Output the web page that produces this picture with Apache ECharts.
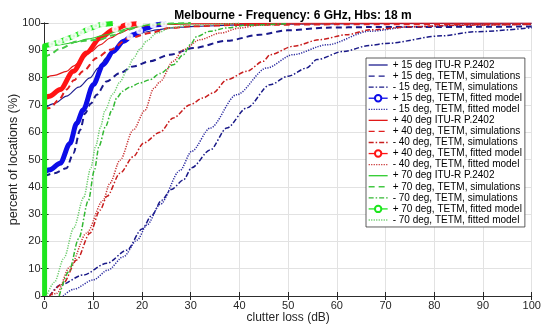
<!DOCTYPE html>
<html>
<head>
<meta charset="utf-8">
<script src="https://cdn.jsdelivr.net/npm/echarts@6/dist/echarts.min.js"></script>
<style>html,body{margin:0;padding:0;background:#fff}#c{width:550px;height:331px}</style>
</head>
<body>
<div id="c"></div>
<script>
// ---- data (x = clutter loss dB, y = percent of locations) ----
var xTicks = [0,10,20,30,40,50,60,70,80,90,100];
var yTicks = [0,10,20,30,40,50,60,70,80,90,100];

var blueItu = [[0,68.9],[2,70.5],[4.5,73.2],[7,76.5],[9.3,79.9],[11,83.5],[12.7,87.2],[14,89.8],[15.5,92],[17,94],[18.9,95.7],[21,96.8],[23,97.5],[26,98.2],[30,98.7],[40,99.3],[50,99.6],[70,99.8],[100,99.9]];
var blueSimPlus = [[0,44],[2,45],[4.5,46.8],[5.9,52.3],[7.3,60.8],[8.3,66.9],[9.5,70.5],[10.7,73.7],[12.7,78.6],[15.5,81.7],[18.2,84.1],[21.6,86],[25.7,88.4],[30.5,90.8],[37.4,93.5],[44.2,95.7],[49.7,97.3],[57.9,98.3],[66.8,98.5],[100,98.7]];
var blueSimMinus = [[1,0],[3.2,4],[7.9,7.7],[12.8,12],[16.9,16.8],[20,24.5],[22,29.5],[24,35],[26,39],[28.5,42.5],[30.2,47],[34,53.5],[37.4,61.5],[41.5,68.9],[46.3,77.4],[50,80.5],[53.8,83.5],[55.9,86.6],[61.3,89.6],[66.8,91.8],[70,92.5],[81.5,95.3],[88.4,96.8],[100,98.3]];
var blueFitPlus = [[0,45.5],[1,46.2],[3.2,48.6],[5.2,55.9],[6.6,63.3],[7.9,68.1],[10,77.4],[12,84.7],[14.1,89.6],[16.2,93.3],[18.2,95.7],[21,98.2],[23,99.4],[25,99.7]];
var blueFitPlusMarks = [[17.5,95],[19.5,97.2],[22.3,99.3],[24.5,99.7]];
var blueFitMinus = [[3.8,0],[6,2.5],[10,5.9],[13,9.5],[16.2,14.4],[19,20.5],[21,26],[23.7,33.5],[27.8,46],[30.2,53],[34,61.5],[39.4,73.7],[45.6,83.5],[51,88.4],[57.9,92],[66.8,97],[75,98.6],[90,99.4],[100,99.6]];

var redItu = [[0,79.9],[2,80.8],[4.5,82.3],[6,84.3],[7.9,87.2],[9.5,89.5],[11.4,92],[13.5,94.5],[15.5,96.3],[17.5,97.8],[19.6,98.8],[22,99.3],[25.4,99.5],[30,99.7],[50,99.9],[100,100]];
var redSimPlus = [[0,68.5],[1.1,68.9],[3,72],[4.5,75.6],[6,79],[7.9,82.3],[10.7,87.2],[13.4,90.2],[17.5,94.5],[21.6,96.3],[25.7,98.2],[30,98.8],[40,99.3],[60,99.5],[100,99.6]];
var redSimMinus = [[1.1,0],[3.8,4.6],[6.6,13.2],[9.3,23],[11.4,31.5],[12.8,36.5],[15.5,45],[18.2,51],[20.3,56],[23.7,60],[26.4,65.2],[29.9,70.1],[32.5,72.5],[34.6,74.4],[37.4,79.2],[41.5,82.3],[44.9,86],[46.3,88.4],[51.1,91.5],[56.5,93.9],[62,95.7],[66.8,97.5],[75,98.6],[85,99.2],[100,99.5]];
var redFitPlus = [[0.3,72.8],[1,73.2],[3.2,75.6],[5.9,82.3],[8.6,89],[11.4,94.5],[14.1,97.5],[16.9,99.4],[19,99.7]];
var redFitPlusMarks = [[14.5,97.8],[17.2,99.5],[19.5,99.8]];
var redFitMinus = [[1,0],[2.5,1],[5.2,10.7],[8.6,23],[12,35],[13.4,41.3],[15.5,49.8],[18.2,60.8],[20.6,68],[22.4,76],[23.7,78.5],[26.4,86],[28.5,90.2],[31.9,93.9],[36,96.3],[40.1,98.2],[44.2,99.2],[50,99.6],[60,99.8]];

var greenItu = [[0,91.3],[3,92],[5.9,92.8],[9,94.2],[12.7,95.7],[15,97],[17.5,98.2],[21.6,99.4],[25,99.8],[30,100]];
var greenSimPlus = [[0,87.5],[1.1,88.4],[3,90.5],[6.6,93.2],[9,93.6],[11.4,94],[14,95.5],[17,97.5],[20,99],[23,99.7],[30,100]];
var greenSimMinus = [[3,0],[5,9],[7,21],[9,35],[10.2,46],[11.2,55],[12.5,62],[13.8,68],[14.8,72.5],[16,75],[17.5,76.5],[19.5,78],[21.6,79.2],[23.7,81.5],[26.4,84.7],[28.5,88.4],[29.9,92],[31.2,95],[34,97],[37.4,98.2],[41.5,99.2],[50,99.8]];
var greenFitPlus = [[0,0],[0,91.7],[1,92],[3.2,93.3],[5.9,95.1],[8.6,97.5],[11.4,99.4],[14,99.8]];
var greenFitPlusMarks = [[1.5,92.3],[3,93.2],[4.5,94],[6,95.2],[7.5,96.5],[9,97.8],[10.5,99],[12,99.6],[15,99.9]];
var greenFitMinus = [[0.4,0],[2,5],[4,14],[6,25],[8,36],[9.5,47],[10.5,55],[11.5,62],[12.4,68],[14,74],[15.5,78.5],[17,83],[18.2,87],[19.6,90.5],[21,93.5],[23,96.3],[26,98.3],[30,99.3],[40,99.9]];

var names = [
  '+ 15 deg ITU-R P.2402','+ 15 deg, TETM, simulations','- 15 deg, TETM, simulations','+ 15 deg, TETM, fitted model','- 15 deg, TETM, fitted model',
  '+ 40 deg ITU-R P.2402','+ 40 deg, TETM, simulations','- 40 deg, TETM, simulations','+ 40 deg, TETM, fitted model','- 40 deg, TETM, fitted model',
  '+ 70 deg ITU-R P.2402','+ 70 deg, TETM, simulations','- 70 deg, TETM, simulations','+ 70 deg, TETM, fitted model','- 70 deg, TETM, fitted model'
];
var seriesData = [blueItu, blueSimPlus, blueSimMinus, blueFitPlus, blueFitMinus,
                  redItu, redSimPlus, redSimMinus, redFitPlus, redFitMinus,
                  greenItu, greenSimPlus, greenSimMinus, greenFitPlus, greenFitMinus];
var markData = {3: blueFitPlusMarks, 8: redFitPlusMarks, 13: greenFitPlusMarks};

// ---- styles ----
var colors = ['#1f1f90','#1a1a8c','#1a1a88','#0d0de8','#2a2aa0',
              '#e01818','#e02020','#c81e1e','#ff1414','#c83232',
              '#2ecc2e','#44c844','#33b833','#1ee61e','#6ccc6c'];
var kinds = ['solid','dashed','dashdot','thick','dotted'];
function dashOf(k){
  if (k==='dashed') return [6,4];
  if (k==='dashdot') return [5,2,1.5,2];
  if (k==='dotted') return [1.2,1.3];
  return 'solid';
}
function widthOf(k){
  if (k==='thick') return 5;
  if (k==='solid') return 1.2;
  if (k==='dashed') return 2;
  return 1.5;
}

var series = [];
var legendData = [];
names.forEach(function(n, i){
  var k = kinds[i % 5];
  series.push({
    name: n, type: 'line', data: seriesData[i],
    symbol: k==='thick' ? 'emptyCircle' : 'none', showSymbol: false,
    smooth: (i===13) ? false : 0.3, smoothMonotone: 'x',
    color: colors[i],
    lineStyle: {color: colors[i], width: widthOf(k), type: dashOf(k), cap: 'butt', join: 'round'},
    emphasis: {disabled: true}, z: 2 + i
  });
  legendData.push(k==='thick' ? {name: n} : {name: n, itemStyle: {opacity: 0}});
});
Object.keys(markData).forEach(function(key){
  var i = +key;
  series.push({
    name: names[i], type: 'scatter', data: markData[key],
    symbol: 'emptyCircle', symbolSize: 5, color: colors[i],
    itemStyle: {color: '#fff', borderColor: colors[i], borderWidth: 1.2},
    emphasis: {disabled: true}, z: 20
  });
});

var axisCol = '#262626';
var chart = echarts.init(document.getElementById('c'), null, {renderer: 'canvas'});
chart.setOption({
  animation: false,
  backgroundColor: '#fff',
  title: {
    text: 'Melbourne - Frequency: 6 GHz, Hbs: 18 m', left: 288, textAlign: 'center', top: 5,
    textStyle: {fontFamily: 'Liberation Sans', fontSize: 12, fontWeight: 'bold', color: '#000'}
  },
  grid: {left: 44.6, right: 18.3, top: 23, bottom: 35, containLabel: false, outerBoundsMode: 'none'},
  xAxis: [{
    type: 'value', min: 0, max: 100, interval: 10,
    name: 'clutter loss (dB)', nameLocation: 'middle', nameGap: 16, nameMoveOverlap: false,
    nameTextStyle: {fontFamily: 'Liberation Sans', fontSize: 12, color: '#262626'},
    axisLine: {show: true, lineStyle: {color: axisCol, width: 0.8}},
    axisTick: {show: true, inside: true, length: 4, lineStyle: {color: axisCol}},
    axisLabel: {fontFamily: 'Liberation Sans', fontSize: 11, color: '#262626', margin: 4},
    splitLine: {show: true, lineStyle: {color: '#e2e2e2', width: 1}}
  }, {
    type: 'value', min: 0, max: 100, interval: 10, position: 'top',
    axisLine: {show: true, lineStyle: {color: axisCol, width: 0.8}},
    axisTick: {show: true, inside: true, length: 4, lineStyle: {color: axisCol}},
    axisLabel: {show: false}, splitLine: {show: false}
  }],
  yAxis: [{
    type: 'value', min: 0, max: 100, interval: 10,
    name: 'percent of locations (%)', nameLocation: 'middle', nameGap: 25, nameMoveOverlap: false,
    nameTextStyle: {fontFamily: 'Liberation Sans', fontSize: 12.5, color: '#262626'},
    axisLine: {show: true, lineStyle: {color: axisCol, width: 0.8}},
    axisTick: {show: true, inside: true, length: 4, lineStyle: {color: axisCol}},
    axisLabel: {fontFamily: 'Liberation Sans', fontSize: 11, color: '#262626', margin: 4},
    splitLine: {show: true, lineStyle: {color: '#e2e2e2', width: 1}}
  }, {
    type: 'value', min: 0, max: 100, interval: 10, position: 'right',
    axisLine: {show: true, lineStyle: {color: axisCol, width: 0.8}},
    axisTick: {show: true, inside: true, length: 4, lineStyle: {color: axisCol}},
    axisLabel: {show: false}, splitLine: {show: false}
  }],
  legend: {
    data: legendData, orient: 'vertical', left: 366, top: 58,
    itemWidth: 19, itemHeight: 8, itemGap: 0.07,
    padding: [1.5, 3, 1.5, 2],
    backgroundColor: '#fff', borderColor: '#333', borderWidth: 0.8,
    lineStyle: {width: 1.3},
    selectedMode: false,
    textStyle: {fontFamily: 'Liberation Sans', fontSize: 10, color: '#000', lineHeight: 11}
  },
  series: series
});
</script>
</body>
</html>
